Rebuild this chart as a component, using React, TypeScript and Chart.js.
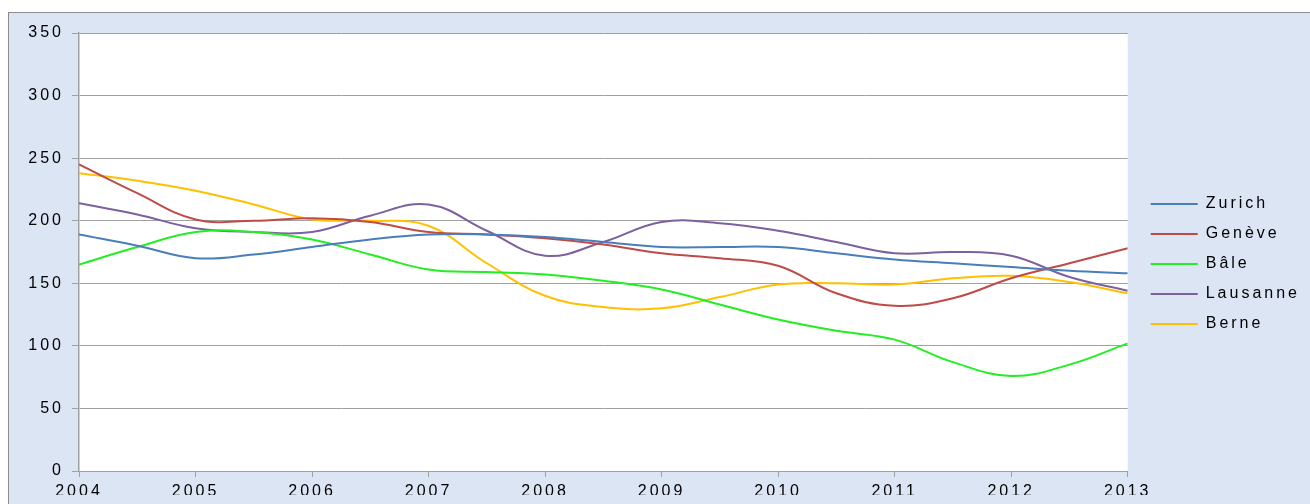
import React, { useEffect, useRef } from "react";
import { Chart, registerables } from "chart.js";

Chart.register(...registerables);

const periods = [2004, 2004.5, 2005, 2005.5, 2006, 2006.5, 2007, 2007.5, 2008, 2008.5, 2009, 2009.5, 2010, 2010.5, 2011, 2011.5, 2012, 2012.5, 2013];
const yearTicks = [2004, 2005, 2006, 2007, 2008, 2009, 2010, 2011, 2012, 2013];
const valueTicks = [0, 50, 100, 150, 200, 250, 300, 350];

const zurich = [189, 180, 170, 173, 179, 185, 189, 189, 187, 183, 179, 179, 179, 174, 169, 166, 163, 160, 158];
const geneve = [245, 222, 201, 200, 202, 199, 191, 189, 186, 181, 174, 170, 164, 142, 132, 138, 154, 166, 178];
const bale = [165, 179, 191, 191, 185, 173, 161, 159, 157, 152, 145, 133, 121, 112, 105, 87, 76, 85, 102];
const lausanne = [214, 205, 194, 191, 191, 204, 213, 192, 172, 183, 199, 198, 192, 183, 174, 175, 172, 155, 144];
const berne = [238, 232, 224, 213, 201, 200, 196, 166, 140, 131, 130, 139, 149, 150, 149, 154, 156, 151, 142];

const seriesNames = ["Zurich", "Genève", "Bâle", "Lausanne", "Berne"];
const seriesValues = [zurich, geneve, bale, lausanne, berne];
const seriesColors = ["#4a7ebb", "#be4b48", "#22ee22", "#7d60a0", "#ffc000"];

const FONT = { family: "'Liberation Sans', Arial, sans-serif", size: 16 };

const helperPlugin = {
  id: "helper",
  beforeUpdate(c: any) {
    c.ctx.letterSpacing = "3px";
  },
  afterLayout(c: any) {
    const lg = c.legend;
    if (lg) {
      lg.left += 9;
      lg.right += 9;
    }
  },
  beforeDraw(c: any) {
    const { ctx, chartArea: a } = c;
    ctx.letterSpacing = "3px";
    ctx.save();
    ctx.fillStyle = "#ffffff";
    ctx.fillRect(a.left, a.top, a.right - a.left, a.bottom - a.top);
    ctx.restore();
  },
};

export default function App() {
  const ref = useRef<HTMLCanvasElement | null>(null);

  useEffect(() => {
    if (!ref.current) return;
    const chart = new Chart(ref.current, {
      type: "line",
      data: {
        datasets: seriesNames.map((name, i) => ({
          label: name,
          data: periods.map((p, j) => ({ x: p, y: seriesValues[i][j] })),
          borderColor: seriesColors[i],
          backgroundColor: seriesColors[i],
          borderWidth: 2,
          pointRadius: 0,
          tension: 0.4,
          fill: false,
        })),
      },
      options: {
        animation: false,
        responsive: false,
        devicePixelRatio: 1,
        layout: { padding: { top: 20, bottom: 9, left: 0, right: 9 } },
        plugins: {
          tooltip: { enabled: false },
          legend: {
            position: "right",
            align: "center",
            labels: {
              usePointStyle: true,
              pointStyle: "line",
              pointStyleWidth: 47,
              boxWidth: 47,
              padding: 14,
              color: "#000",
              font: FONT,
            },
          },
        },
        scales: {
          x: {
            type: "linear",
            min: 2004,
            max: 2013,
            afterBuildTicks: (s: any) => {
              s.ticks = yearTicks.map((v) => ({ value: v }));
            },
            afterFit: (s: any) => {
              s.height = 24;
            },
            ticks: {
              color: "#000",
              font: FONT,
              padding: 5,
              maxRotation: 0,
              autoSkip: false,
              callback: (v: any) => String(v),
            },
            grid: { drawOnChartArea: false, drawTicks: true, tickLength: 6, color: "#a0a0a0" },
            border: { display: true, color: "#a0a0a0", width: 1 },
          },
          y: {
            min: 0,
            max: 350,
            afterBuildTicks: (s: any) => {
              s.ticks = valueTicks.map((v) => ({ value: v }));
            },
            afterFit: (s: any) => {
              s.width = 70;
            },
            ticks: { color: "#000", font: FONT, padding: 8, callback: (v: any) => String(v) },
            grid: { color: "#a0a0a0", lineWidth: 1, tickLength: 7, drawTicks: true },
            border: { display: true, color: "#a0a0a0", width: 1.5 },
          },
        },
      },
      plugins: [helperPlugin],
    } as any);
    return () => chart.destroy();
  }, []);

  return (
    <div
      style={{
        position: "fixed",
        top: 12,
        left: 8,
        width: 1301,
        height: 491,
        borderTop: "1px solid #8c8c8c",
        borderLeft: "1px solid #8c8c8c",
        background: "#dbe5f4",
      }}
    >
      <canvas ref={ref} width={1301} height={491} style={{ display: "block", width: 1301, height: 491 }} />
    </div>
  );
}
